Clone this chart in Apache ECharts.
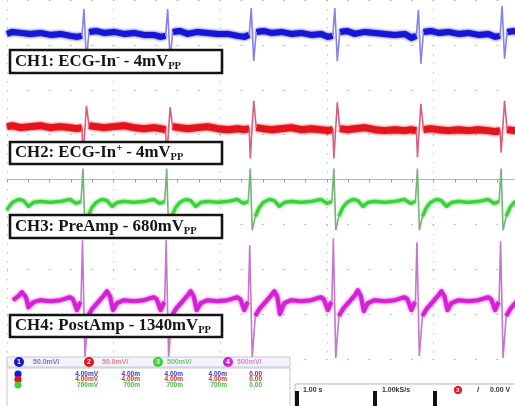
<!DOCTYPE html>
<html><head><meta charset="utf-8">
<script src="https://cdn.jsdelivr.net/npm/echarts@6/dist/echarts.min.js"></script>
<style>html,body{margin:0;padding:0;background:#fff}#c{width:515px;height:406px}</style>
</head><body><div id="c"></div>
<script>
// time in seconds (1.00 s/div), amplitude in screen divisions
const ch1Base = [
 [[0,3.244],[0.051,3.289],[0.126,3.267],[0.219,3.244],[0.313,3.267],[0.407,3.222],[0.501,3.244],[0.595,3.2],[0.656,3.178],[0.703,3.2]],
 [[0.769,3.289],[0.835,3.311],[0.910,3.267],[1.003,3.289],[1.097,3.244],[1.191,3.267],[1.285,3.222],[1.379,3.222],[1.441,3.178],[1.488,3.2]],
 [[1.554,3.289],[1.620,3.311],[1.695,3.244],[1.788,3.289],[1.882,3.267],[1.976,3.244],[2.070,3.244],[2.164,3.2],[2.225,3.178],[2.272,3.222]],
 [[2.338,3.289],[2.404,3.311],[2.479,3.267],[2.572,3.289],[2.666,3.244],[2.760,3.267],[2.854,3.222],[2.948,3.244],[3.009,3.178],[3.056,3.2]],
 [[3.122,3.289],[3.188,3.311],[3.263,3.244],[3.356,3.289],[3.450,3.267],[3.544,3.244],[3.638,3.222],[3.732,3.244],[3.793,3.156],[3.840,3.2]],
 [[3.906,3.289],[3.972,3.311],[4.047,3.267],[4.140,3.289],[4.234,3.244],[4.328,3.267],[4.422,3.222],[4.516,3.244],[4.578,3.178],[4.625,3.2]],
 [[4.691,3.289],[4.757,3.311],[4.813,3.267]]
];
const ch1Qrs = [
 [[0.703,3.2],[0.722,3.8],[0.745,2.644],[0.769,3.289]],
 [[1.488,3.2],[1.507,3.8],[1.530,2.667],[1.554,3.289]],
 [[2.272,3.222],[2.291,3.822],[2.314,2.644],[2.338,3.289]],
 [[3.056,3.2],[3.075,3.822],[3.098,2.644],[3.122,3.289]],
 [[3.840,3.2],[3.859,3.778],[3.882,2.578],[3.906,3.289]],
 [[4.625,3.2],[4.644,3.867],[4.667,2.689],[4.691,3.289]]
];
const ch2Base = [
 [[0,1.178],[0.051,1.2],[0.126,1.156],[0.219,1.178],[0.313,1.2],[0.407,1.156],[0.501,1.178],[0.595,1.156],[0.656,1.133],[0.703,1.156]],
 [[0.769,1.2],[0.835,1.178],[0.910,1.156],[1.003,1.178],[1.097,1.2],[1.191,1.156],[1.285,1.133],[1.379,1.156],[1.441,1.133],[1.488,1.111]],
 [[1.554,1.178],[1.620,1.156],[1.695,1.133],[1.788,1.156],[1.882,1.178],[1.976,1.133],[2.070,1.111],[2.164,1.133],[2.225,1.111],[2.272,1.133]],
 [[2.338,1.156],[2.404,1.133],[2.479,1.111],[2.572,1.133],[2.666,1.156],[2.760,1.111],[2.854,1.133],[2.948,1.111],[3.009,1.089],[3.056,1.111]],
 [[3.122,1.133],[3.188,1.111],[3.263,1.133],[3.356,1.156],[3.450,1.111],[3.544,1.089],[3.638,1.111],[3.732,1.089],[3.793,1.111],[3.840,1.089]],
 [[3.906,1.111],[3.972,1.133],[4.047,1.111],[4.140,1.089],[4.234,1.111],[4.328,1.089],[4.422,1.111],[4.516,1.089],[4.578,1.067],[4.625,1.089]],
 [[4.691,1.111],[4.757,1.089],[4.813,1.111]]
];
const ch2Qrs = [
 [[0.703,1.156],[0.713,0.467],[0.745,1.644],[0.769,1.2]],
 [[1.488,1.111],[1.498,0.467],[1.530,1.607],[1.554,1.178]],
 [[2.272,1.133],[2.282,0.467],[2.314,1.756],[2.338,1.156]],
 [[3.056,1.111],[3.066,0.467],[3.098,1.718],[3.122,1.133]],
 [[3.840,1.089],[3.850,0.489],[3.882,1.689],[3.906,1.111]],
 [[4.625,1.089],[4.635,0.6],[4.667,1.756],[4.691,1.111]]
];
const ch3Base = [
 [[0,-0.689],[0.013,-0.622],[0.051,-0.511],[0.107,-0.444],[0.154,-0.467],[0.201,-0.6],[0.248,-0.511],[0.313,-0.489],[0.407,-0.511],[0.501,-0.489],[0.591,-0.444],[0.647,-0.533],[0.694,-0.489]],
 [[0.760,-0.822],[0.797,-0.622],[0.835,-0.511],[0.891,-0.444],[0.938,-0.467],[0.985,-0.6],[1.032,-0.511],[1.097,-0.489],[1.191,-0.511],[1.285,-0.489],[1.376,-0.444],[1.432,-0.533],[1.479,-0.489]],
 [[1.545,-0.822],[1.582,-0.622],[1.620,-0.511],[1.676,-0.444],[1.723,-0.467],[1.770,-0.6],[1.817,-0.511],[1.882,-0.489],[1.976,-0.511],[2.070,-0.489],[2.160,-0.444],[2.216,-0.533],[2.263,-0.489]],
 [[2.329,-0.822],[2.366,-0.622],[2.404,-0.511],[2.460,-0.444],[2.507,-0.467],[2.554,-0.6],[2.601,-0.511],[2.666,-0.489],[2.760,-0.511],[2.854,-0.489],[2.944,-0.444],[3.000,-0.533],[3.047,-0.489]],
 [[3.113,-0.822],[3.150,-0.622],[3.188,-0.511],[3.244,-0.444],[3.291,-0.467],[3.338,-0.6],[3.385,-0.511],[3.450,-0.489],[3.544,-0.511],[3.638,-0.489],[3.728,-0.444],[3.784,-0.533],[3.831,-0.489]],
 [[3.897,-0.822],[3.934,-0.622],[3.972,-0.511],[4.028,-0.444],[4.075,-0.467],[4.122,-0.6],[4.169,-0.511],[4.234,-0.489],[4.328,-0.511],[4.422,-0.489],[4.513,-0.444],[4.569,-0.533],[4.616,-0.489]],
 [[4.682,-0.822],[4.719,-0.622],[4.757,-0.511],[4.813,-0.444]]
];
const ch3Qrs = [
 [[0.694,-0.489],[0.713,0.244],[0.731,-1.133],[0.760,-0.822]],
 [[1.479,-0.489],[1.498,0.244],[1.516,-1.133],[1.545,-0.822]],
 [[2.263,-0.489],[2.282,0.244],[2.300,-1.133],[2.329,-0.822]],
 [[3.047,-0.489],[3.066,0.244],[3.084,-1.133],[3.113,-0.822]],
 [[3.831,-0.489],[3.850,0.244],[3.868,-1.133],[3.897,-0.822]],
 [[4.616,-0.489],[4.635,0.244],[4.653,-1.133],[4.682,-0.822]]
];
const ch4Base = [
 [[0.056,-2.689],[0.107,-2.6],[0.141,-2.511],[0.178,-2.622],[0.201,-2.85],[0.248,-2.733],[0.313,-2.689],[0.407,-2.711],[0.501,-2.689],[0.591,-2.622],[0.619,-2.667],[0.656,-2.911],[0.684,-2.756],[0.694,-2.733]],
 [[0.760,-3.044],[0.797,-2.889],[0.863,-2.711],[0.910,-2.578],[0.938,-2.489],[0.966,-2.6],[0.994,-2.911],[1.032,-2.756],[1.097,-2.689],[1.191,-2.711],[1.285,-2.689],[1.376,-2.622],[1.404,-2.667],[1.441,-2.911],[1.469,-2.756],[1.479,-2.733]],
 [[1.545,-3.044],[1.582,-2.889],[1.648,-2.711],[1.695,-2.578],[1.723,-2.489],[1.751,-2.6],[1.779,-2.911],[1.817,-2.756],[1.882,-2.689],[1.976,-2.711],[2.070,-2.689],[2.160,-2.622],[2.188,-2.667],[2.225,-2.911],[2.253,-2.756],[2.263,-2.733]],
 [[2.329,-3.044],[2.366,-2.889],[2.432,-2.711],[2.479,-2.578],[2.507,-2.489],[2.535,-2.6],[2.560,-3.0],[2.601,-2.756],[2.666,-2.689],[2.760,-2.711],[2.854,-2.689],[2.944,-2.622],[2.972,-2.667],[3.009,-2.911],[3.037,-2.756],[3.047,-2.733]],
 [[3.113,-3.044],[3.150,-2.889],[3.216,-2.711],[3.263,-2.578],[3.291,-2.467],[3.319,-2.6],[3.347,-2.933],[3.385,-2.756],[3.450,-2.689],[3.544,-2.711],[3.638,-2.689],[3.728,-2.622],[3.756,-2.667],[3.793,-2.911],[3.821,-2.756],[3.831,-2.733]],
 [[3.897,-3.044],[3.934,-2.889],[4.000,-2.711],[4.047,-2.578],[4.075,-2.489],[4.103,-2.6],[4.131,-2.911],[4.169,-2.756],[4.234,-2.689],[4.328,-2.711],[4.422,-2.689],[4.513,-2.622],[4.541,-2.667],[4.578,-2.911],[4.606,-2.756],[4.616,-2.733]],
 [[4.682,-3.044],[4.719,-2.889],[4.785,-2.711],[4.813,-2.622]]
];
const ch4Qrs = [
 [[0.694,-2.733],[0.708,-1.356],[0.731,-3.978],[0.760,-3.044]],
 [[1.479,-2.733],[1.493,-1.356],[1.516,-3.978],[1.545,-3.044]],
 [[2.263,-2.733],[2.277,-1.467],[2.300,-3.978],[2.329,-3.044]],
 [[3.047,-2.733],[3.061,-1.311],[3.084,-3.978],[3.113,-3.044]],
 [[3.831,-2.733],[3.845,-1.4],[3.868,-3.933],[3.897,-3.044]],
 [[4.616,-2.733],[4.630,-1.378],[4.653,-3.978],[4.682,-3.044]]
];
const labels = [
  {head:'CH1: ECG-In', sup:'-', tail:' - 4mV', sub:'PP'},
  {head:'CH2: ECG-In', sup:'+', tail:' - 4mV', sub:'PP'},
  {head:'CH3: PreAmp - 680mV', sup:'', tail:'', sub:'PP'},
  {head:'CH4: PostAmp - 1340mV', sup:'', tail:'', sub:'PP'}
];
const scaleRow = ['50.0mV/', '50.0mV/', '500mV/', '500mV/'];
const measRows = [
  ['4.00mV','4.00m','4.00m','4.00m','0.00'],
  ['4.00mV','4.00m','4.00m','4.00m','0.00'],
  ['700mV','700m','700m','700m','0.00']
];
const timebase = '1.00 s', sampleRate = '1.00kS/s', trigLevel = '0.00 V';
const xMax = 4.765; // visible part of the 10-div screen

// ---------- layout / style ----------
const chColors = ['#1616d6','#e4141c','#3ad23a','#d620d6'];
const qrsColors = ['#8a80ea','#d8607e','#74b474','#c478cc'];
const bandW = [6,7,3.2,4];
function join(segs){const o=[];segs.forEach((s,i)=>{if(i)o.push([s[0][0],'-']);s.forEach(p=>o.push(p));});return o;}
const bases=[ch1Base,ch2Base,ch3Base,ch4Base], qrss=[ch1Qrs,ch2Qrs,ch3Qrs,ch4Qrs];
const series=[];
bases.forEach((b,i)=>series.push({type:'line',data:join(b),showSymbol:false,symbol:'none',connectNulls:false,clip:false,
  lineStyle:{color:chColors[i],width:bandW[i],shadowColor:chColors[i],shadowBlur:3,join:'round'},z:3}));
qrss.forEach((q,i)=>series.push({type:'line',data:join(q),showSymbol:false,symbol:'none',connectNulls:false,clip:false,
  lineStyle:{color:qrsColors[i],width:1.6},z:4}));

const boxY=[50,142,215,315], boxH=[23,22,23,22];
const graphics=[];
labels.forEach((l,i)=>{
  graphics.push({type:'rect',z:100,shape:{x:10,y:boxY[i],width:212,height:boxH[i]},
    style:{fill:'#fff',stroke:'#141414',lineWidth:2.6}});
  let t='{b|'+l.head+'}';
  if(l.sup) t+='{sup|'+l.sup+'}';
  if(l.tail) t+='{b|'+l.tail+'}';
  t+='{sub|'+l.sub+'}';
  graphics.push({type:'text',z:101,x:15,y:boxY[i]+boxH[i]/2,
    style:{text:t,verticalAlign:'middle',rich:{
      b:{fontFamily:'Liberation Serif',fontWeight:'bold',fontSize:16.8,fill:'#151515',lineHeight:20},
      sup:{fontFamily:'Liberation Serif',fontWeight:'bold',fontSize:10.5,fill:'#151515',lineHeight:20,verticalAlign:'top'},
      sub:{fontFamily:'Liberation Serif',fontWeight:'bold',fontSize:10.5,fill:'#151515',lineHeight:20,verticalAlign:'bottom'}
    }}});
});
// status area
const sFont='bold 7px "Liberation Sans"';
graphics.push({type:'rect',z:100,shape:{x:7,y:357,width:283,height:10},style:{fill:'#f3f3f9',stroke:'#c4c4d6',lineWidth:1}});
const badgeX=[19,89,158,228], textX=[33,102,167,237];
const lightCol=['#6a78dc','#e08484','#70c470','#d484d4'];
scaleRow.forEach((s,i)=>{
  graphics.push({type:'circle',z:101,shape:{cx:badgeX[i],cy:362,r:5},style:{fill:chColors[i]}});
  graphics.push({type:'text',z:102,x:badgeX[i],y:362,style:{text:String(i+1),font:'bold 7px "Liberation Sans"',fill:'#fff',align:'center',verticalAlign:'middle'}});
  graphics.push({type:'text',z:101,x:textX[i],y:362,style:{text:s,font:sFont,fill:lightCol[i],verticalAlign:'middle'}});
});
graphics.push({type:'rect',z:100,shape:{x:7,y:368,width:283,height:40},style:{fill:'#fff',stroke:'#c8c8c8',lineWidth:1}});
const rowY=[374,379.5,385], colX=[98,140,183,227,262];
const rowCol=['#3434d0','#d43030','#40b840'];
measRows.forEach((r,j)=>{
  graphics.push({type:'circle',z:101,shape:{cx:18,cy:rowY[j],r:3.6},style:{fill:chColors[j]}});
  r.forEach((v,k)=>graphics.push({type:'text',z:101,x:colX[k],y:rowY[j],style:{text:v,font:'bold 6.5px "Liberation Sans"',fill:rowCol[j],align:'right',verticalAlign:'middle'}}));
});
graphics.push({type:'rect',z:100,shape:{x:295,y:384,width:222,height:24},style:{fill:'#fff',stroke:'#b8b8b8',lineWidth:1}});
[295,373,433].forEach(x=>graphics.push({type:'rect',z:101,shape:{x:x,y:391,width:4,height:16},style:{fill:'#111'}}));
graphics.push({type:'text',z:101,x:303,y:390,style:{text:timebase,font:sFont,fill:'#333',verticalAlign:'middle'}});
graphics.push({type:'text',z:101,x:382,y:390,style:{text:sampleRate,font:sFont,fill:'#333',verticalAlign:'middle'}});
graphics.push({type:'circle',z:101,shape:{cx:458,cy:390,r:4},style:{fill:chColors[1]}});
graphics.push({type:'text',z:102,x:458,y:390,style:{text:'2',font:'bold 6px "Liberation Sans"',fill:'#fff',align:'center',verticalAlign:'middle'}});
graphics.push({type:'text',z:101,x:477,y:390,style:{text:'/',font:'bold 8px "Liberation Sans"',fill:'#333',verticalAlign:'middle'}});
graphics.push({type:'text',z:101,x:490,y:390,style:{text:trigLevel,font:sFont,fill:'#333',verticalAlign:'middle'}});

const chart = echarts.init(document.getElementById('c'));
chart.setOption({
  animation:false, backgroundColor:'#fff',
  grid:{left:7,right:0,top:0,bottom:47},
  xAxis:{type:'value',min:0,max:xMax,interval:1,
    axisLabel:{show:false},
    axisLine:{show:true,onZero:true,lineStyle:{color:'#b4b4b4',width:1}},
    axisTick:{show:true,length:3,lineStyle:{color:'#9a9a9a'}},
    minorTick:{show:true,splitNumber:5,length:3,lineStyle:{color:'#9a9a9a'}},
    splitLine:{show:true,lineStyle:{color:'#c4c4c4',width:1,type:[1.5,7.5]}}},
  yAxis:{type:'value',min:-4,max:4,interval:1,
    axisLabel:{show:false},axisLine:{show:false},axisTick:{show:false},
    splitLine:{show:true,lineStyle:{color:'#bdbdbd',width:1,type:[2,19.32],dashOffset:1}}},
  series:series,
  graphic:graphics
});
</script></body></html>
